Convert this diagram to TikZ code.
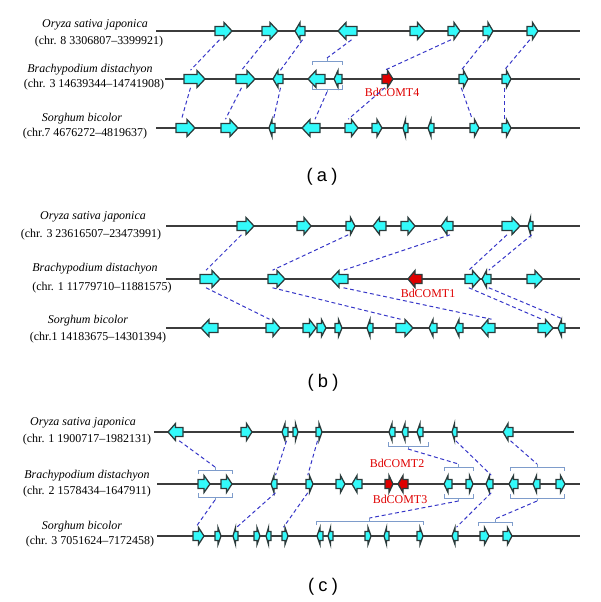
\documentclass[tikz,border=0pt]{standalone}
\usepackage{fontspec}
\setmainfont{Liberation Serif}
\newfontfamily\panelfont{Liberation Sans}
\usepackage{tikz}
\usetikzlibrary{calc}
\definecolor{gncyan}{HTML}{33FAFA}
\definecolor{gnedge}{HTML}{2B3B3B}
\definecolor{gnred}{HTML}{E00000}
\definecolor{chline}{HTML}{3C3C3C}
\definecolor{lnblue}{HTML}{3535C8}
\definecolor{brblue}{HTML}{7E9CCB}
\tikzset{
  gn/.style     ={fill=gncyan, draw=gnedge, line width=0.9pt, line join=miter},
  gnhot/.style  ={gn, fill=gnred},
  gbox/.style   ={inner sep=0pt, minimum height=0.425cm},
  chrom/.style  ={draw=chline, line width=0.9pt},
  link/.style   ={draw=lnblue, line width=0.7pt, dash pattern=on 2.8pt off 2pt},
  brk/.style    ={draw=brblue, line width=0.7pt},
  spname/.style ={font=\fontsize{8.5}{10}\selectfont\itshape, inner sep=0pt},
  spchr/.style  ={font=\fontsize{8.5}{10}\selectfont, inner sep=0pt},
  gnlbl/.style  ={font=\fontsize{8.5}{10}\selectfont, text=gnred, inner sep=0pt},
  panlbl/.style ={font=\panelfont\fontsize{13}{15}\selectfont, inner sep=0pt},
}
% gene arrow: [style]{name}{x0}{x1}{y}{dir}
\newcommand{\gene}[6][gn]{%
  \pgfmathsetmacro{\gl}{min(8,0.5*(#4-#3))}%
  \pgfmathsetmacro{\gtip}{#6>0 ? #4 : #3}%
  \pgfmathsetmacro{\gtail}{#6>0 ? #3 : #4}%
  \pgfmathsetmacro{\gbase}{\gtip-(#6)*\gl}%
  \pgfmathsetmacro{\gbw}{abs(\gtail-\gbase)*0.025}%
  \draw[#1] (\gtail,#5-4.5) -- (\gbase,#5-4.5) -- (\gbase,#5-8.5) -- (\gtip,#5)
    -- (\gbase,#5+8.5) -- (\gbase,#5+4.5) -- (\gtail,#5+4.5) -- cycle;
  \node[gbox, minimum width=\gbw cm] (#2) at ({(\gtail+\gbase)/2},#5) {};
}
% bracket: {name}{x0}{x1}{y}{side} side=1 above genes, -1 below
\newcommand{\grp}[5]{%
  \draw[brk] (#2,#4+4*#5) -- (#2,#4) -- (#3,#4) -- (#3,#4+4*#5);
  \draw[brk] ({(#2+#3)/2},#4) -- ({(#2+#3)/2},#4-3*#5) coordinate (#1);
}

\begin{document}
\begin{tikzpicture}[x=0.025cm, y=-0.025cm]
  \fill[white] (0,0) rectangle (600,602);

  % ---------------- (a)
  \node[spname] (aon) at (95,25) {Oryza sativa japonica};
  \node[spchr]  (aoc) at (99,42) {(chr. 8 3306807--3399921)};
  \node[spname] (abn) at (90,70) {Brachypodium distachyon};
  \node[spchr]  (abc) at (94,85) {(chr. 3 14639344--14741908)};
  \node[spname] (asn) at (82,119) {Sorghum bicolor};
  \node[spchr]  (asc) at (85,134) {(chr.7 4676272--4819637)};
  \draw[chrom] (156,31) -- (580,31);
  \draw[chrom] (165,79) -- (580,79);
  \draw[chrom] (156,128) -- (580,128);

  \gene{ao1}{215}{232}{31}{1}
  \gene{ao2}{262}{278}{31}{1}
  \gene{ao3}{295}{305}{31}{-1}
  \gene{ao4}{338}{357}{31}{-1}
  \gene{ao5}{410}{425}{31}{1}
  \gene{ao6}{448}{460}{31}{1}
  \gene{ao7}{483}{493}{31}{1}
  \gene{ao8}{527}{538}{31}{1}

  \gene{ab1}{184}{205}{79}{1}
  \gene{ab2}{236}{255}{79}{1}
  \gene{ab3}{273}{283}{79}{-1}
  \gene{ab4}{308}{325}{79}{-1}
  \gene{ab5}{334}{342}{79}{-1}
  \gene[gnhot]{comt4}{382}{393}{79}{1}
  \gene{ab6}{459}{468}{79}{1}
  \gene{ab7}{502}{511}{79}{1}
  \node[gnlbl] (l4) at (392,92) {BdCOMT4};

  \gene{as1}{176}{195}{128}{1}
  \gene{as2}{221}{238}{128}{1}
  \gene{as3}{269}{275}{128}{-1}
  \gene{as4}{302}{320}{128}{-1}
  \gene{as5}{345}{358}{128}{1}
  \gene{as6}{372}{382}{128}{1}
  \gene{as7}{403}{408}{128}{-1}
  \gene{as8}{428}{434}{128}{-1}
  \gene{as9}{470}{479}{128}{1}
  \gene{as10}{502}{511}{128}{1}

  \grp{agt}{312}{342}{61}{1}
  \grp{agb}{312}{342}{89}{-1}

  \draw[link] (ao1.south) -- (ab1.north);
  \draw[link] (ab1.south) -- (as1.north);
  \draw[link] (ao2.south) -- (ab2.north);
  \draw[link] (ab2.south) -- (as2.north);
  \draw[link] (ao3.south) -- (ab3.north);
  \draw[link] (ab3.south) -- (as3.north);
  \draw[link] (ao4.south) -- (agt);
  \draw[link] (agb) -- (as4.north);
  \draw[link] (ao6.south) -- (comt4.north);
  \draw[link] (comt4.south) -- (as5.north);
  \draw[link] (ao7.south) -- (ab6.north);
  \draw[link] (ab6.south) -- (as9.north);
  \draw[link] (ao8.south) -- (ab7.north);
  \draw[link] (ab7.south) -- (as10.north);

  \node[panlbl] (pa) at (322,177) {(\hspace{3pt}a\hspace{3pt})};

  % ---------------- (b)
  \node[spname] (bon) at (93,217) {Oryza sativa japonica};
  \node[spchr]  (boc) at (91,235) {(chr. 3 23616507--23473991)};
  \node[spname] (bbn) at (95,269) {Brachypodium distachyon};
  \node[spchr]  (bbc) at (102,288) {(chr. 1 11779710--11881575)};
  \node[spname] (bsn) at (88,321) {Sorghum bicolor};
  \node[spchr]  (bsc) at (98,338) {(chr.1 14183675--14301394)};
  \draw[chrom] (166,226) -- (580,226);
  \draw[chrom] (166,279) -- (580,279);
  \draw[chrom] (166,328) -- (580,328);

  \gene{bo1}{237}{254}{226}{1}
  \gene{bo2}{297}{311}{226}{1}
  \gene{bo3}{346}{355}{226}{1}
  \gene{bo4}{373}{386}{226}{-1}
  \gene{bo5}{401}{415}{226}{1}
  \gene{bo6}{441}{453}{226}{-1}
  \gene{bo7}{502}{520}{226}{1}
  \gene{bo8}{528}{533}{226}{-1}

  \gene{bb1}{200}{220}{279}{1}
  \gene{bb2}{268}{285}{279}{1}
  \gene{bb3}{331}{348}{279}{-1}
  \gene[gnhot]{comt1}{408}{422}{279}{-1}
  \gene{bb4}{465}{480}{279}{1}
  \gene{bb5}{482}{491}{279}{-1}
  \gene{bb6}{527}{543}{279}{1}
  \node[gnlbl] (l1) at (428,293) {BdCOMT1};

  \gene{bs1}{201}{218}{328}{-1}
  \gene{bs2}{266}{280}{328}{1}
  \gene{bs3}{303}{316}{328}{1}
  \gene{bs4}{317}{326}{328}{1}
  \gene{bs5}{335}{342}{328}{1}
  \gene{bs6}{367}{373}{328}{-1}
  \gene{bs7}{396}{413}{328}{1}
  \gene{bs8}{429}{437}{328}{-1}
  \gene{bs9}{455}{463}{328}{-1}
  \gene{bs10}{481}{495}{328}{-1}
  \gene{bs11}{538}{553}{328}{1}
  \gene{bs12}{558}{565}{328}{-1}

  \draw[link] (bo1.south) -- (bb1.north);
  \draw[link] (bb1.south) -- (bs2.north);
  \draw[link] (bo3.south) -- (bb2.north);
  \draw[link] (bb2.south) -- (bs7.north);
  \draw[link] (bo6.south) -- (bb3.north);
  \draw[link] (bb3.south) -- (bs10.north);
  \draw[link] (bo7.south) -- (bb4.north);
  \draw[link] (bo8.south) -- (bb5.north);
  \draw[link] (bb4.south) -- (bs11.north);
  \draw[link] (bb5.south) -- (bs12.north);

  \node[panlbl] (pb) at (323,383) {(\hspace{3pt}b\hspace{3pt})};

  % ---------------- (c)
  \node[spname] (con) at (83,423) {Oryza sativa japonica};
  \node[spchr]  (coc) at (87,440) {(chr. 1 1900717--1982131)};
  \node[spname] (cbn) at (87,476) {Brachypodium distachyon};
  \node[spchr]  (cbc) at (87,492) {(chr. 2 1578434--1647911)};
  \node[spname] (csn) at (82,527) {Sorghum bicolor};
  \node[spchr]  (csc) at (90,542) {(chr. 3 7051624--7172458)};
  \draw[chrom] (154,432) -- (574,432);
  \draw[chrom] (157,484) -- (580,484);
  \draw[chrom] (157,536) -- (580,536);

  \gene{co1}{168}{183}{432}{-1}
  \gene{co2}{241}{252}{432}{1}
  \gene{co3}{282}{288}{432}{-1}
  \gene{co4}{293}{298}{432}{1}
  \gene{co5}{316}{322}{432}{1}
  \gene{co6}{389}{395}{432}{-1}
  \gene{co7}{402}{408}{432}{-1}
  \gene{co8}{417}{423}{432}{-1}
  \gene{co9}{452}{457}{432}{-1}
  \gene{co10}{503}{513}{432}{-1}

  \gene{cb1}{198}{210}{484}{1}
  \gene{cb2}{221}{232}{484}{1}
  \gene{cb3}{271}{277}{484}{-1}
  \gene{cb4}{306}{313}{484}{1}
  \gene{cb5}{336}{345}{484}{1}
  \gene{cb6}{352}{362}{484}{-1}
  \gene[gnhot]{comt2}{385}{393}{484}{1}
  \gene[gnhot]{comt3}{398}{408}{484}{-1}
  \gene{cb7}{444}{452}{484}{-1}
  \gene{cb8}{466}{473}{484}{1}
  \gene{cb9}{486}{493}{484}{-1}
  \gene{cb10}{509}{518}{484}{-1}
  \gene{cb11}{533}{540}{484}{-1}
  \gene{cb12}{556}{565}{484}{1}
  \node[gnlbl] (l2) at (397,463) {BdCOMT2};
  \node[gnlbl] (l3) at (400,499) {BdCOMT3};

  \gene{cs1}{193}{204}{536}{1}
  \gene{cs2}{215}{221}{536}{1}
  \gene{cs3}{233}{238}{536}{-1}
  \gene{cs4}{254}{260}{536}{1}
  \gene{cs5}{266}{271}{536}{-1}
  \gene{cs6}{282}{288}{536}{1}
  \gene{cs7}{317}{323}{536}{-1}
  \gene{cs8}{328}{333}{536}{-1}
  \gene{cs9}{365}{371}{536}{1}
  \gene{cs10}{384}{389}{536}{-1}
  \gene{cs11}{417}{423}{536}{1}
  \gene{cs12}{452}{458}{536}{-1}
  \gene{cs13}{480}{489}{536}{1}
  \gene{cs14}{503}{512}{536}{1}

  \grp{cgo}{388}{428}{446}{-1}
  \grp{cg1t}{198}{232}{470}{1}
  \grp{cg1b}{198}{232}{497}{-1}
  \grp{cg2t}{444}{473}{467}{1}
  \grp{cg2b}{444}{473}{498}{-1}
  \grp{cg3t}{510}{564}{467}{1}
  \grp{cg3b}{510}{564}{498}{-1}
  \grp{cgs1}{316}{423}{521}{1}
  \grp{cgs2}{478}{512}{522}{1}

  \draw[link] (co1.south) -- (cg1t);
  \draw[link] (cg1b) -- (cs1.north);
  \draw[link] (co3.south) -- (cb3.north);
  \draw[link] (cb3.south) -- (cs3.north);
  \draw[link] (co5.south) -- (cb4.north);
  \draw[link] (cb4.south) -- (cs6.north);
  \draw[link] (cgo) -- (cg2t);
  \draw[link] (cg2b) -- (cgs1);
  \draw[link] (co9.south) -- (cb9.north);
  \draw[link] (cb9.south) -- (cs12.north);
  \draw[link] (co10.south) -- (cg3t);
  \draw[link] (cg3b) -- (cgs2);

  \node[panlbl] (pc) at (323,587) {(\hspace{3pt}c\hspace{3pt})};
\end{tikzpicture}
\end{document}
